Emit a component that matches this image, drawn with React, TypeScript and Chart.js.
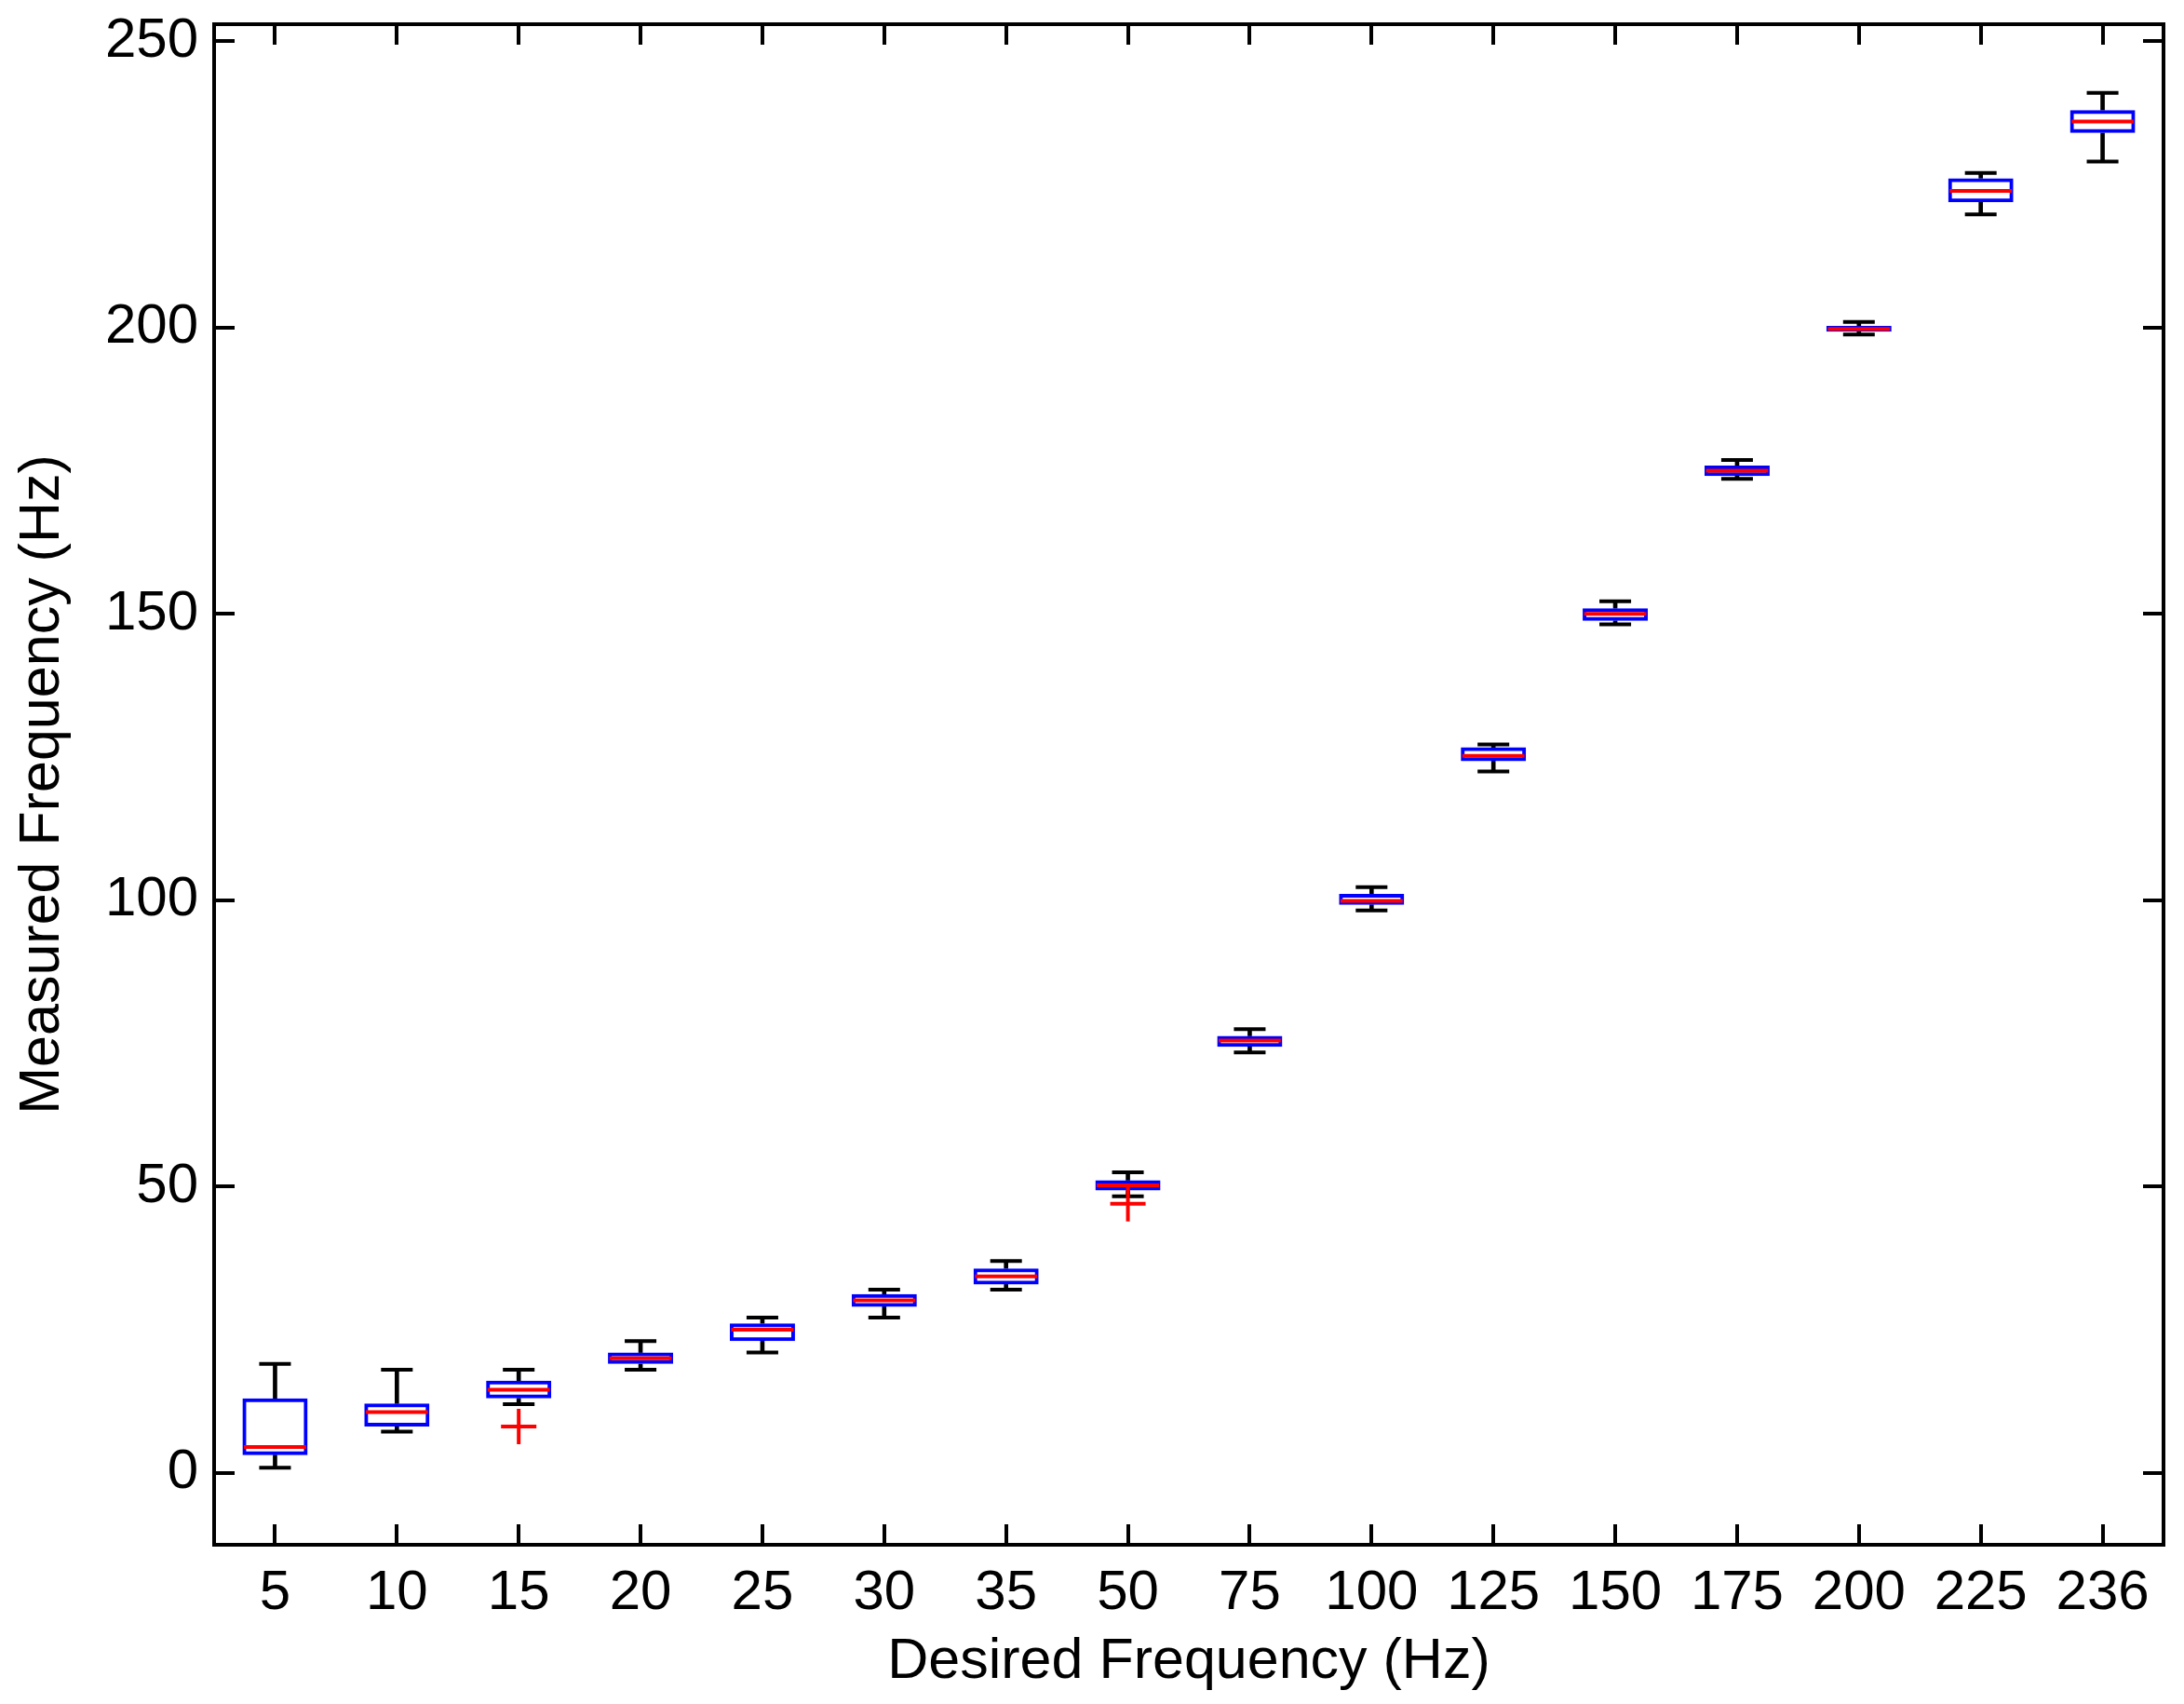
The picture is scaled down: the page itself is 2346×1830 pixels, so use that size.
import React, { useEffect, useRef } from 'react';
import { Chart, registerables } from 'chart.js';

Chart.register(...registerables);

// ---- data ----
const categories = ['5', '10', '15', '20', '25', '30', '35', '50', '75', '100', '125', '150', '175', '200', '225', '236'];
const whiskerLow = [0.9, 7.2, 12.0, 18.0, 21.0, 27.1, 32.0, 48.3, 73.4, 98.2, 122.5, 148.2, 173.6, 198.8, 219.8, 229.0];
const q1 = [3.1, 8.1, 13.0, 19.0, 23.0, 29.0, 32.9, 49.3, 74.4, 99.2, 124.3, 148.8, 174.1, 199.3, 221.9, 234.0];
const medians = [4.5, 10.6, 14.5, 20.0, 25.0, 30.1, 34.3, 50.2, 75.5, 99.9, 125.2, 150.0, 175.0, 199.8, 223.9, 236.0];
const q3 = [13.0, 12.1, 16.1, 21.0, 26.1, 31.2, 35.7, 51.1, 76.3, 101.1, 126.7, 151.0, 175.9, 200.3, 226.1, 238.0];
const whiskerHigh = [19.0, 18.0, 18.0, 23.0, 27.1, 32.0, 37.0, 52.5, 77.5, 102.3, 127.2, 152.2, 176.9, 201.0, 227.0, 241.0];
const outliers = [null, null, 8.1, null, null, null, null, 47.0, null, null, null, null, null, null, null, null];
const yTicks = [0, 50, 100, 150, 200, 250];
const Y_MIN = -12.57;
const Y_MAX = 253.0;

const FONT = "'Liberation Sans', Arial, Helvetica, sans-serif";

export default function App() {
  const ref = useRef<HTMLCanvasElement>(null);

  useEffect(() => {
    document.body.style.margin = '0';
    document.body.style.overflow = 'hidden';
    const canvas = ref.current!;

    const catWidth = (c: any) => {
      const x = c.chart.scales.x;
      return x && x.width ? x.width / categories.length : 130.9;
    };

    const gridOpts = {
      display: true,
      drawOnChartArea: false,
      drawTicks: true,
      tickLength: -22,
      color: '#000',
      lineWidth: 4,
      tickColor: '#000',
      tickWidth: 4,
      offset: false,
    };
    const borderOpts = { display: true, color: '#000', width: 4 };
    const noPad = (s: any) => {
      s.paddingTop = 0;
      s.paddingBottom = 0;
      s.paddingLeft = 0;
      s.paddingRight = 0;
    };

    const chart = new Chart(canvas, {
      type: 'bar',
      data: {
        labels: categories,
        datasets: [
          {
            type: 'line',
            label: 'outliers',
            data: outliers as any,
            showLine: false,
            pointStyle: 'cross',
            pointRadius: 19,
            pointBorderColor: '#ff0000',
            pointBackgroundColor: '#ff0000',
            pointBorderWidth: 4,
            xAxisID: 'x',
            yAxisID: 'y',
            order: 0,
          } as any,
          {
            type: 'line',
            label: 'median',
            data: medians,
            showLine: false,
            pointStyle: 'line',
            pointRadius: (c: any) => catWidth(c) * 0.255,
            pointBorderColor: '#ff0000',
            pointBackgroundColor: '#ff0000',
            pointBorderWidth: 4,
            xAxisID: 'x',
            yAxisID: 'y',
            order: 1,
          } as any,
          {
            type: 'bar',
            label: 'box',
            data: q1.map((v, i) => [v, q3[i]]) as any,
            backgroundColor: 'rgba(0,0,0,0)',
            borderColor: '#0000ff',
            borderWidth: 4,
            borderSkipped: false,
            grouped: false,
            barPercentage: 0.535,
            categoryPercentage: 1,
            xAxisID: 'x',
            yAxisID: 'y',
            order: 2,
          } as any,
          {
            type: 'line',
            label: 'capLow',
            data: whiskerLow,
            showLine: false,
            pointStyle: 'line',
            pointRadius: (c: any) => catWidth(c) * 0.13,
            pointBorderColor: '#000',
            pointBackgroundColor: '#000',
            pointBorderWidth: 4,
            xAxisID: 'x',
            yAxisID: 'y',
            order: 3,
          } as any,
          {
            type: 'line',
            label: 'capHigh',
            data: whiskerHigh,
            showLine: false,
            pointStyle: 'line',
            pointRadius: (c: any) => catWidth(c) * 0.13,
            pointBorderColor: '#000',
            pointBackgroundColor: '#000',
            pointBorderWidth: 4,
            xAxisID: 'x',
            yAxisID: 'y',
            order: 3,
          } as any,
          {
            type: 'bar',
            label: 'whiskerLow',
            data: whiskerLow.map((v, i) => [v, q1[i]]) as any,
            backgroundColor: '#000',
            borderWidth: 0,
            grouped: false,
            barThickness: 4,
            xAxisID: 'x',
            yAxisID: 'y',
            order: 4,
          } as any,
          {
            type: 'bar',
            label: 'whiskerHigh',
            data: q3.map((v, i) => [v, whiskerHigh[i]]) as any,
            backgroundColor: '#000',
            borderWidth: 0,
            grouped: false,
            barThickness: 4,
            xAxisID: 'x',
            yAxisID: 'y',
            order: 4,
          } as any,
        ],
      },
      options: {
        responsive: false,
        animation: false,
        devicePixelRatio: 1,
        events: [],
        layout: { autoPadding: false, padding: { top: 26, right: 22, left: 0, bottom: 0 } },
        plugins: {
          legend: { display: false },
          tooltip: { enabled: false },
        },
        scales: {
          x: {
            type: 'category',
            position: 'bottom',
            offset: true,
            grid: gridOpts,
            border: borderOpts,
            ticks: {
              font: { family: FONT, size: 60 },
              color: '#000',
              padding: 38,
              maxRotation: 0,
              minRotation: 0,
              autoSkip: false,
            },
            title: {
              display: true,
              text: 'Desired Frequency (Hz)',
              color: '#000',
              font: { family: FONT, size: 61 },
              padding: { top: 0, bottom: 8 },
            },
            afterFit: (s: any) => {
              s.height = 171;
              noPad(s);
            },
          },
          x2: {
            type: 'category',
            position: 'top',
            offset: true,
            grid: gridOpts,
            border: borderOpts,
            ticks: { display: false },
            afterFit: (s: any) => {
              s.height = 0;
              noPad(s);
            },
          },
          y: {
            type: 'linear',
            position: 'left',
            min: Y_MIN,
            max: Y_MAX,
            bounds: 'data',
            afterBuildTicks: (s: any) => {
              s.ticks = yTicks.map((v) => ({ value: v }));
            },
            grid: gridOpts,
            border: borderOpts,
            ticks: {
              font: { family: FONT, size: 60 },
              color: '#000',
              padding: 39,
            },
            title: {
              display: true,
              text: 'Measured Frequency (Hz)',
              color: '#000',
              font: { family: FONT, size: 61 },
              padding: { top: 10, bottom: 0 },
            },
            afterFit: (s: any) => {
              s.width = 230;
              noPad(s);
            },
          },
          y2: {
            type: 'linear',
            position: 'right',
            min: Y_MIN,
            max: Y_MAX,
            bounds: 'data',
            afterBuildTicks: (s: any) => {
              s.ticks = yTicks.map((v) => ({ value: v }));
            },
            grid: gridOpts,
            border: borderOpts,
            ticks: { display: false },
            afterFit: (s: any) => {
              s.width = 0;
              noPad(s);
            },
          },
        } as any,
      },
    });

    return () => chart.destroy();
  }, []);

  return <canvas ref={ref} width={2346} height={1830} style={{ display: 'block' }} />;
}
